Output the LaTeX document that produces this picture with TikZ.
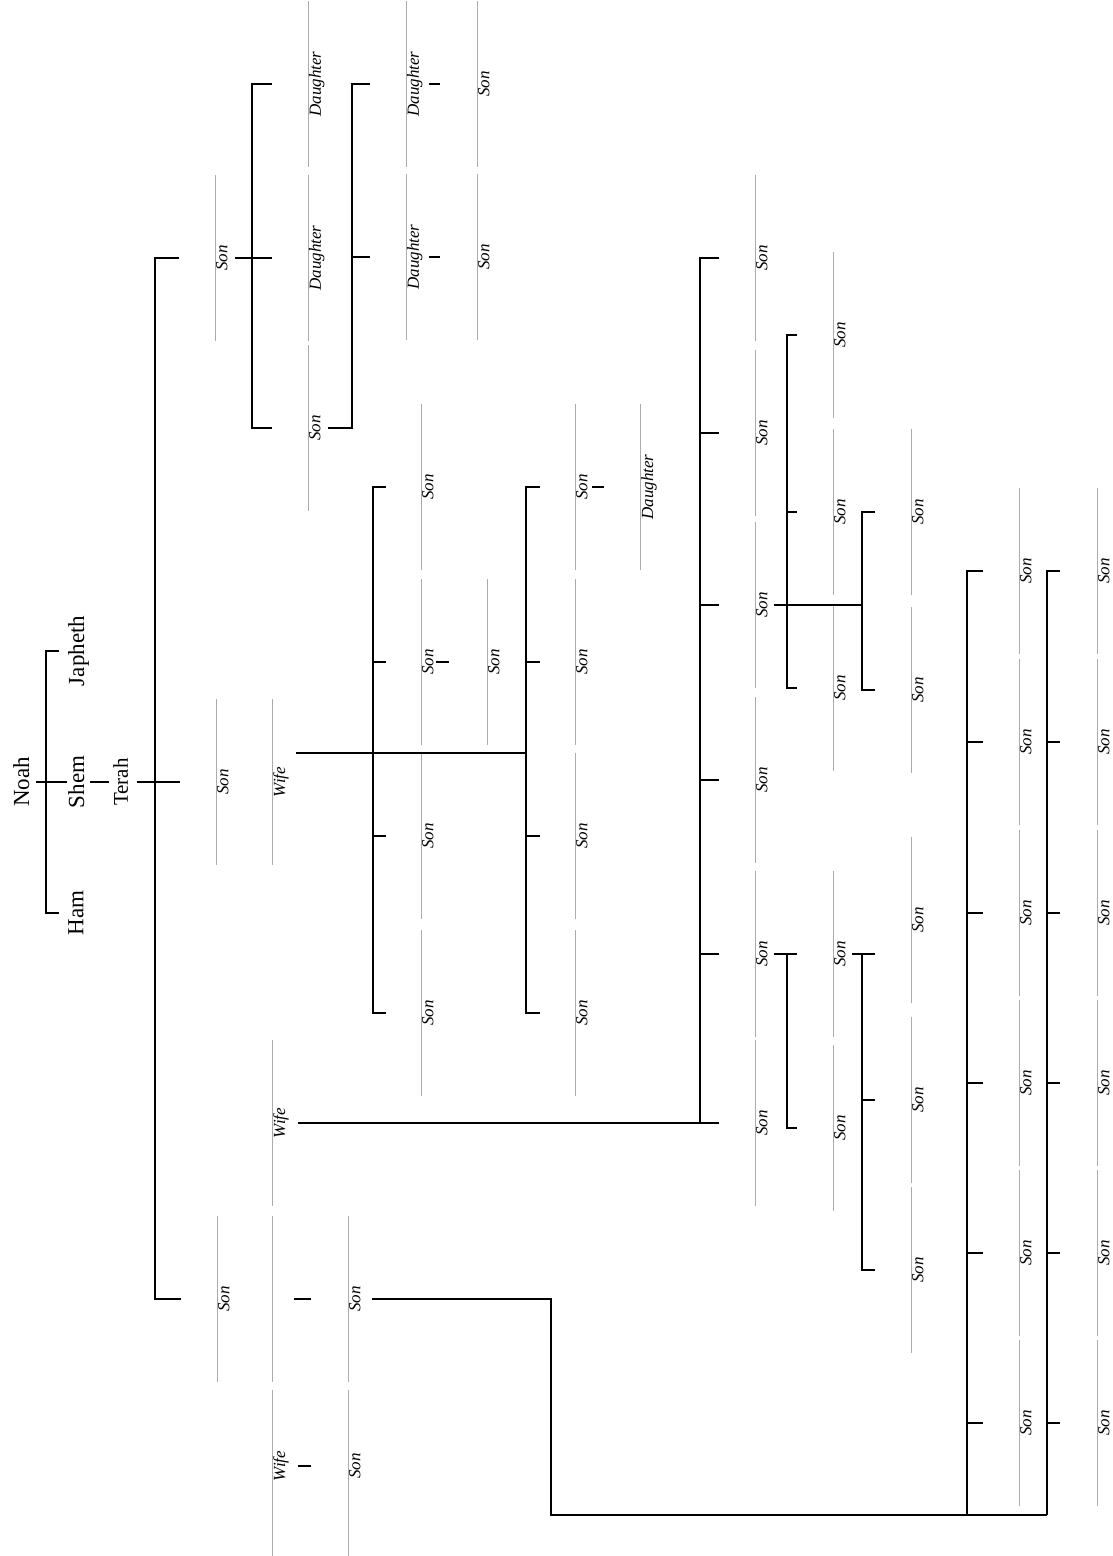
\documentclass[tikz,border=0pt]{standalone}
\usepackage{fontspec}
\setmainfont{Liberation Serif}

\tikzset{
  kin/.style={line width=2.7pt},
  nameline/.style={draw=black!33,line width=0.9pt},
  who/.style={rotate=90,anchor=north,inner sep=1pt,font=\itshape\fontsize{17}{19}\selectfont},
  elder/.style={rotate=90,anchor=north,inner sep=1pt,font=\fontsize{23}{25}\selectfont},
}
% a name on its grey line
\newcommand{\person}[4]{%
  \draw[nameline] (#2,#3-83) -- (#2,#3+83);
  \node[who] (#1) at (#2,#3) {#4};}

\begin{document}
\begin{tikzpicture}[x=1pt,y=-1pt]
\useasboundingbox (0,0) rectangle (1113,1556);

\node[elder] (noah) at (12,782) {Noah};
\node[elder] (japheth) at (67,651) {Japheth};
\node[elder] (shem) at (67,782) {Shem};
\node[elder] (ham) at (67,913) {Ham};
\node[elder,font=\fontsize{21}{23}\selectfont] (terah) at (112,782) {Terah};

\person{t1}{215}{258}{Son}
\person{t2}{216}{782}{Son}
\person{t3}{217}{1299}{Son}
\person{w1}{272}{782}{Wife}
\person{w2}{272}{1123}{Wife}
\draw[nameline] (272,1216) -- (272,1382);
\coordinate (w3) at (272,1299);
\draw[nameline] (272,1390) -- (272,1556);
\node[who] (w4) at (272,1466) {Wife};
\person{b1}{348}{1299}{Son}
\draw[nameline] (348,1390) -- (348,1556);
\node[who] (b2) at (348,1466) {Son};

\person{a1}{308}{84}{Daughter}
\person{a2}{308}{258}{Daughter}
\person{a3}{308}{428}{Son}
\person{a4}{406}{84}{Daughter}
\person{a5}{406}{257}{Daughter}
\person{a6}{477}{84}{Son}
\person{a7}{477}{257}{Son}

\foreach \y [count=\i] in {487,662,836,1013} {
  \person{d\i}{421}{\y}{Son}
  \person{e\i}{575}{\y}{Son}
}
\person{d5}{487}{662}{Son}
\person{e5}{640}{487}{Daughter}

\foreach \y [count=\i] in {258,433,605,780,954,1123} {\person{f\i}{755}{\y}{Son}}
\foreach \y [count=\i] in {335,512,688,954,1128} {\person{g\i}{833}{\y}{Son}}
\foreach \y [count=\i] in {512,690,920,1100,1270} {\person{h\i}{911}{\y}{Son}}
\foreach \y [count=\i] in {571,742,913,1083,1253,1423} {
  \person{k\i}{1019}{\y}{Son}
  \person{m\i}{1097}{\y}{Son}
}

\coordinate (nspine) at (46,0);
\coordinate (tspine) at (155,0);
\coordinate (aspine) at (252,0);
\coordinate (bspine) at (352,0);
\coordinate (dspine) at (373,0);
\coordinate (espine) at (526,0);
\coordinate (fspine) at (700,0);
\coordinate (gspine) at (787,0);
\coordinate (hspine) at (862,0);
\coordinate (kspine) at (967,0);
\coordinate (mspine) at (1047,0);
\coordinate (wknot) at (526,753);
\coordinate (bend) at (551,1515);
\coordinate (h3tick) at ([xshift=-36pt]h3.north);

% Noah, Shem, Terah
\draw[kin] (japheth.north) ++(-8,0) -| (nspine |- ham.north) -- ([xshift=-8pt]ham.north);
\draw[kin] ([xshift=5pt]noah.south) -- (shem.north);
\draw[kin] ([xshift=4pt]shem.south) -- ([xshift=-3pt]terah.north);
\draw[kin] ([xshift=8pt]terah.south) -- ([xshift=-36pt]t2.north);
\draw[kin] ([xshift=-36pt]t1.north) -| (tspine |- t3.north) -- ([xshift=-36pt]t3.north);

% first son
\draw[kin] ([xshift=6pt]t1.south) -- ([xshift=-36pt]a2.north);
\draw[kin] ([xshift=-36pt]a1.north) -| (aspine |- a3.north) -- ([xshift=-36pt]a3.north);
\draw[kin] ([xshift=6pt]a3.south) -| (bspine |- a4.north) -- ([xshift=-36pt]a4.north);
\draw[kin] (bspine |- a5.north) -- ([xshift=-36pt]a5.north);
\draw[kin] ([xshift=5pt]a4.south) -- ([xshift=-37pt]a6.north);
\draw[kin] ([xshift=5pt]a5.south) -- ([xshift=-37pt]a7.north);

% first wife
\draw[kin] (w1.south |- wknot) ++(6,0) -- (wknot);
\draw[kin] ([xshift=-35pt]d1.north) -| (dspine |- d4.north) -- ([xshift=-35pt]d4.north);
\draw[kin] ([xshift=-35pt]e1.north) -| (espine |- e4.north) -- ([xshift=-35pt]e4.north);
\foreach \i in {2,3} {
  \draw[kin] (dspine |- d\i.north) -- ([xshift=-35pt]d\i.north);
  \draw[kin] (espine |- e\i.north) -- ([xshift=-35pt]e\i.north);
}
\draw[kin] ([xshift=1pt]d2.south) -- ([xshift=-38pt]d5.north);
\draw[kin] ([xshift=3pt]e1.south) -- ([xshift=-36pt]e5.north);

% second wife
\draw[kin] ([xshift=8pt]w2.south) -- ([xshift=-36pt]f6.north);
\draw[kin] ([xshift=-36pt]f1.north) -| (fspine |- f6.north);
\foreach \i in {2,...,5} {
  \draw[kin] (fspine |- f\i.north) -- ([xshift=-36pt]f\i.north);
}
\draw[kin] ([xshift=5pt]f3.south) -- (hspine |- f3.north);
\draw[kin] ([xshift=-36pt]g1.north) -| (gspine |- g3.north) -- ([xshift=-36pt]g3.north);
\draw[kin] (gspine |- g2.north) -- ([xshift=-36pt]g2.north);
\draw[kin] ([xshift=-36pt]h1.north) -| (hspine |- h2.north) -- ([xshift=-36pt]h2.north);
\draw[kin] ([xshift=5pt]f5.south) -- ([xshift=-36pt]g4.north);
\draw[kin] (gspine |- g4.north) |- ([xshift=-36pt]g5.north);
\draw[kin] ([xshift=5pt]g4.south) -- (h3tick |- g4.north);
\draw[kin] (hspine |- g4.north) |- ([xshift=-36pt]h5.north);
\draw[kin] (hspine |- h4.north) -- ([xshift=-36pt]h4.north);

% third son
\draw[kin] ([xshift=22pt]w3) -- ([xshift=-37pt]b1.north);
\draw[kin] ([xshift=8pt]w4.south) -- ([xshift=-37pt]b2.north);
\draw[kin] ([xshift=10pt]b1.south) -| (bend) -- (mspine |- bend);
\draw[kin] ([xshift=-36pt]k1.north) -| (kspine |- bend);
\draw[kin] ([xshift=-37pt]m1.north) -| (mspine |- bend);
\foreach \i in {2,...,6} {
  \draw[kin] (kspine |- k\i.north) -- ([xshift=-36pt]k\i.north);
  \draw[kin] (mspine |- m\i.north) -- ([xshift=-37pt]m\i.north);
}
\end{tikzpicture}
\end{document}
